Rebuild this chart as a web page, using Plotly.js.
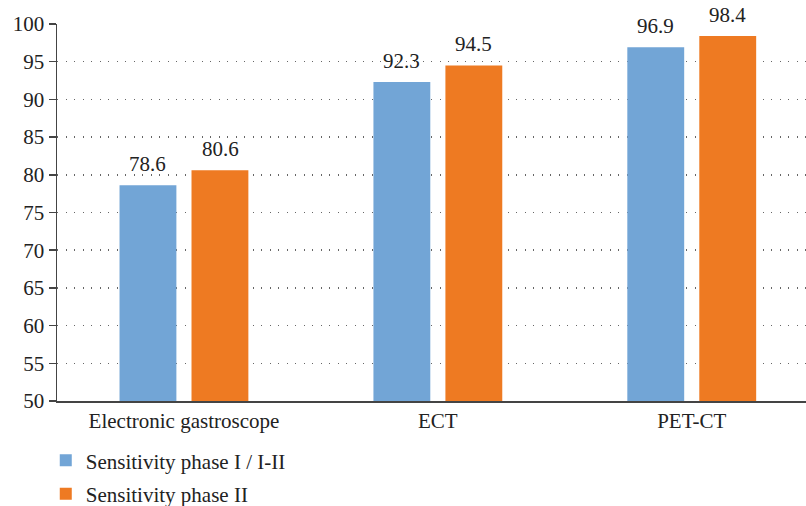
<!DOCTYPE html>
<html>
<head>
<meta charset="utf-8">
<script src="https://cdn.plot.ly/plotly-3.0.1.min.js"></script>
<style>html,body{margin:0;padding:0;background:#fff;}#chart{width:806px;height:506px;}</style>
</head>
<body>
<div id="chart"></div>
<script>
const categories = ["Electronic gastroscope", "ECT", "PET-CT"];
const seriesNames = ["Sensitivity phase I / I-II", "Sensitivity phase II"];
const phaseI = [78.6, 92.3, 96.9];
const phaseII = [80.6, 94.5, 98.4];
const yTicks = [50, 55, 60, 65, 70, 75, 80, 85, 90, 95, 100];
const colors = ["#72A5D6", "#EE7A22"];

const FONT = "Liberation Serif";
const series = [phaseI, phaseII];

const traces = series.map((vals, k) => ({
  type: "bar",
  name: seriesNames[k],
  x: categories,
  y: vals,
  marker: {color: colors[k]},
  legendgroup: "g" + k,
  hoverinfo: "none"
}));

const offsets = [-0.142, 0.142];
const annotations = [];
series.forEach((vals, k) => {
  vals.forEach((v, i) => {
    annotations.push({
      x: i + offsets[k], y: v, xref: "x", yref: "y",
      text: v.toFixed(1), showarrow: false,
      yanchor: "bottom", yshift: 7,
      font: {family: FONT, size: 21, color: "#222"}
    });
  });
});

const layout = {
  width: 806, height: 506,
  margin: {l: 57, r: 0, t: 24, b: 105},
  paper_bgcolor: "#fff", plot_bgcolor: "#fff",
  bargap: 0.433, bargroupgap: 0.21,
  barmode: "group",
  font: {family: FONT, size: 21, color: "#222"},
  xaxis: {
    type: "category",
    range: [-0.5, 2.45],
    showgrid: false,
    showline: true, linecolor: "#444", linewidth: 1.5,
    ticks: "", tickfont: {family: FONT, size: 21, color: "#222"},
    fixedrange: true
  },
  yaxis: {
    range: [50, 100],
    tickvals: yTicks,
    ticktext: yTicks.map(String),
    showline: true, linecolor: "#444", linewidth: 1.5,
    ticks: "outside", ticklen: 7, tickcolor: "#444", tickwidth: 1.5,
    showgrid: true, gridcolor: "#666", gridwidth: 1.5, griddash: "1px,7.5px",
    zeroline: false,
    tickfont: {family: FONT, size: 21, color: "#222"},
    fixedrange: true
  },
  showlegend: true,
  legend: {
    orientation: "v", x: -0.015, xanchor: "left",
    yref: "container", y: 0.13, yanchor: "top",
    traceorder: "grouped", tracegroupgap: 3,
    font: {family: FONT, size: 21, color: "#222"},
    bgcolor: "rgba(0,0,0,0)"
  },
  annotations: annotations
};

Plotly.newPlot("chart", traces, layout, {displayModeBar: false, staticPlot: true});
</script>
</body>
</html>
